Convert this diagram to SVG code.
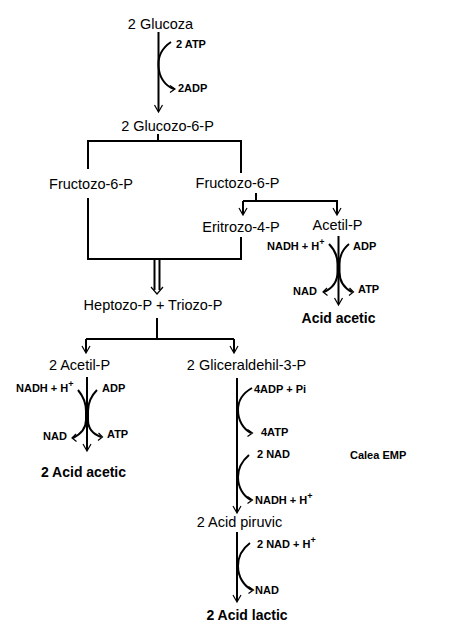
<svg xmlns="http://www.w3.org/2000/svg" width="454" height="637" viewBox="0 0 454 637">
<style>
.t{font-family:"Liberation Sans",Arial,sans-serif;font-size:14.5px;fill:#000}
.b{font-family:"Liberation Sans",Arial,sans-serif;font-size:11px;font-weight:bold;fill:#000}
.bb{font-family:"Liberation Sans",Arial,sans-serif;font-size:14px;font-weight:bold;fill:#000}
.sup{font-size:9px}
.l{fill:none;stroke:#000;stroke-width:2}
.h{fill:none;stroke:#000;stroke-width:1.2}
</style>
<rect width="454" height="637" fill="#fff"/>
<g id="connectors">
  <!-- Glucoza -> Glucozo-6-P -->
  <line class="l" x1="158.5" y1="32" x2="158.5" y2="111"/>
  <polyline class="h" points="154.5,105 158.5,112 162.5,105"/>
  <path class="l" d="M171,42 C162,48 158,57 158.5,66 C159,77 165,86 174,89"/>
  <polyline class="h" points="170,85.5 175,89 170,92.5"/>
  <!-- Glucozo-6-P split -->
  <line class="l" x1="158" y1="134" x2="158" y2="141"/>
  <polyline class="l" points="88,169 88,141 241,141 241,173"/>
  <polyline class="l" points="88,198 88,259 241,259 241,237"/>
  <!-- Fructozo right split -->
  <line class="l" x1="256" y1="193" x2="256" y2="201"/>
  <line class="l" x1="243" y1="201" x2="338" y2="201"/>
  <line class="l" x1="243" y1="201" x2="243" y2="214"/>
  <polyline class="h" points="239,208 243,215 247,208"/>
  <line class="l" x1="337" y1="201" x2="337" y2="214"/>
  <polyline class="h" points="333,208 337,215 341,208"/>
  <!-- Acetil-P -> Acid acetic -->
  <line class="l" x1="338.5" y1="236" x2="338.5" y2="304"/>
  <polyline class="h" points="334.5,298 338.5,305 342.5,298"/>
  <path class="l" d="M329,244 C334,249 337.5,256 337.5,264 L337.5,272 C337.5,281 333,288 324,292"/>
  <polyline class="h" points="327,288 323,292 327.5,295.5"/>
  <path class="l" d="M349,244 C343,249 339.5,256 339.5,264 L339.5,272 C339.5,281 344,288 352,292"/>
  <polyline class="h" points="349.5,288 353.5,292 349,295.5"/>
  <!-- double arrow -->
  <line class="l" x1="154.5" y1="260" x2="154.5" y2="290"/>
  <line class="l" x1="159.5" y1="260" x2="159.5" y2="290"/>
  <polyline class="h" points="151,287 157,294 163,287"/>
  <!-- Heptozo split -->
  <line class="l" x1="157" y1="318" x2="157" y2="339"/>
  <line class="l" x1="86" y1="339" x2="234" y2="339"/>
  <line class="l" x1="86" y1="339" x2="86" y2="352"/>
  <polyline class="h" points="82,346 86,353 90,346"/>
  <line class="l" x1="234" y1="339" x2="234" y2="352"/>
  <polyline class="h" points="230,346 234,353 238,346"/>
  <!-- 2 Acetil-P -> 2 Acid acetic -->
  <line class="l" x1="87" y1="377" x2="87" y2="450"/>
  <polyline class="h" points="83,444 87,451 91,444"/>
  <path class="l" d="M78,390 C83,396 86,403 86,411 L86,420 C86,429 81,434 73,438"/>
  <polyline class="h" points="76,434 72,438 76.5,441.5"/>
  <path class="l" d="M97,390 C91,396 88,403 88,411 L88,420 C88,429 93,434 101,437"/>
  <polyline class="h" points="98.5,433 102.5,437 98,440.5"/>
  <!-- Gliceraldehil -> piruvic -->
  <line class="l" x1="237" y1="378" x2="237" y2="512"/>
  <polyline class="h" points="233,506 237,513 241,506"/>
  <path class="l" d="M252,388 C243,393 238,401 238,410 C238,420 243,429 251,433"/>
  <polyline class="h" points="247.5,429.5 252.5,433 247.5,436.5"/>
  <path class="l" d="M249,455 C242,461 238,469 238,477 C238,487 243,496 251,500"/>
  <polyline class="h" points="247.5,496.5 252.5,500 247.5,503.5"/>
  <!-- piruvic -> lactic -->
  <line class="l" x1="237" y1="532" x2="237" y2="601"/>
  <polyline class="h" points="233,595 237,602 241,595"/>
  <path class="l" d="M250,543 C242,549 238,557 238,566 C238,577 244,586 252,590"/>
  <polyline class="h" points="248.5,586.5 253.5,590 248.5,593.5"/>
</g>
<g id="n-glucoza"><text class="t" x="160.5" y="29" text-anchor="middle">2 Glucoza</text></g>
<g id="l-2atp"><text class="b" x="176" y="48">2 ATP</text></g>
<g id="l-2adp"><text class="b" x="178" y="92">2ADP</text></g>
<g id="n-glucozo6p"><text class="t" x="167.5" y="131" text-anchor="middle">2 Glucozo-6-P</text></g>
<g id="n-fructozo-left"><text class="t" x="91" y="189" text-anchor="middle">Fructozo-6-P</text></g>
<g id="n-fructozo-right"><text class="t" x="237.5" y="188" text-anchor="middle">Fructozo-6-P</text></g>
<g id="n-eritrozo"><text class="t" x="241" y="232" text-anchor="middle">Eritrozo-4-P</text></g>
<g id="n-acetilp"><text class="t" x="337.5" y="230" text-anchor="middle">Acetil-P</text></g>
<g id="l-r-nadh"><text class="b" x="267" y="250">NADH + H<tspan class="sup" dy="-5">+</tspan></text></g>
<g id="l-r-adp"><text class="b" x="353" y="250">ADP</text></g>
<g id="l-r-nad"><text class="b" x="293" y="295">NAD</text></g>
<g id="l-r-atp"><text class="b" x="358" y="293">ATP</text></g>
<g id="n-acid-acetic"><text class="bb" x="338.5" y="323" text-anchor="middle">Acid acetic</text></g>
<g id="n-heptozo"><text class="t" x="153" y="310" text-anchor="middle">Heptozo-P + Triozo-P</text></g>
<g id="n-2acetilp"><text class="t" x="79.5" y="370" text-anchor="middle">2 Acetil-P</text></g>
<g id="n-gliceraldehil"><text class="t" x="246.5" y="370" text-anchor="middle">2 Gliceraldehil-3-P</text></g>
<g id="l-l-nadh"><text class="b" x="16" y="392">NADH + H<tspan class="sup" dy="-5">+</tspan></text></g>
<g id="l-l-adp"><text class="b" x="102" y="392">ADP</text></g>
<g id="l-l-nad"><text class="b" x="43" y="440">NAD</text></g>
<g id="l-l-atp"><text class="b" x="107" y="438">ATP</text></g>
<g id="n-2acid-acetic"><text class="bb" x="83.5" y="477" text-anchor="middle">2 Acid acetic</text></g>
<g id="l-4adp"><text class="b" x="254" y="393">4ADP + Pi</text></g>
<g id="l-4atp"><text class="b" x="261" y="436">4ATP</text></g>
<g id="l-2nad"><text class="b" x="257" y="458">2 NAD</text></g>
<g id="l-nadh2"><text class="b" x="255" y="504">NADH + H<tspan class="sup" dy="-5">+</tspan></text></g>
<g id="l-calea"><text class="b" x="350" y="459">Calea EMP</text></g>
<g id="n-piruvic"><text class="t" x="239.5" y="527" text-anchor="middle">2 Acid piruvic</text></g>
<g id="l-2nadh"><text class="b" x="257" y="548">2 NAD + H<tspan class="sup" dy="-5">+</tspan></text></g>
<g id="l-nad3"><text class="b" x="255" y="594">NAD</text></g>
<g id="n-lactic"><text class="bb" x="247" y="620" text-anchor="middle">2 Acid lactic</text></g>
</svg>
